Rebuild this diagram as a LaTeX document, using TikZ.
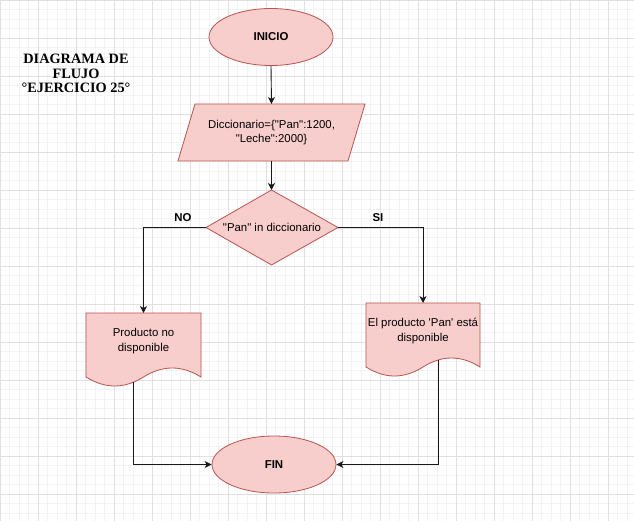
\documentclass[tikz,border=0pt]{standalone}
\usepackage{fontspec}
\setmainfont{Liberation Sans}[Ligatures=TeXOff]
\newfontfamily\titlefont{Liberation Serif}
\usetikzlibrary{arrows.meta,shapes.geometric}
\definecolor{fillred}{HTML}{F8CECC}
\definecolor{strokered}{HTML}{B85450}
\definecolor{gridminor}{HTML}{F3F3F3}
\definecolor{gridmajor}{HTML}{E0E0E0}
\begin{document}
\begin{tikzpicture}[x=1pt,y=-1pt,
  shapestyle/.style={fill=fillred, draw=strokered, line width=0.8pt},
  ell/.style={ellipse, shapestyle, minimum width=124pt, minimum height=57pt, inner sep=0pt,
    font=\fontsize{11.4}{14}\selectfont\bfseries},
  lbl/.style={font=\fontsize{11.4}{14.5}\selectfont, align=center, text=black, inner sep=0pt},
  yn/.style={font=\fontsize{11.4}{14}\selectfont\bfseries, text=black, inner sep=0pt},
  conn/.style={draw=black!90, line width=0.9pt, -{Stealth[length=7pt,width=7pt,inset=2pt]}}
]
\useasboundingbox (0,0) rectangle (634,521);
\fill[white] (0,0) rectangle (634,521);
% grid
\foreach \i in {0,...,67} {
  \draw[gridminor, line width=0.6pt] (\i*9.5,0) -- (\i*9.5,521);
}
\foreach \i in {0,...,55} {
  \draw[gridminor, line width=0.6pt] (0,\i*9.5) -- (634,\i*9.5);
}
\foreach \i in {0,...,16} {
  \draw[gridmajor, line width=0.7pt] (\i*38,0) -- (\i*38,521);
}
\foreach \i in {0,...,13} {
  \draw[gridmajor, line width=0.7pt] (0,\i*38) -- (634,\i*38);
}

% title
\node[font=\titlefont\fontsize{14.3}{14.5}\selectfont\bfseries, align=center, inner sep=0pt] (title) at (76,73.5)
  {DIAGRAMA DE\\FLUJO\\°EJERCICIO 25°};

% start
\node[ell] (inicio) at (271,37) {INICIO};

% parallelogram
\draw[shapestyle] (195,104) -- (365,104) -- (348,161) -- (178,161) -- cycle;
\coordinate (paratop) at (271.5,104);
\coordinate (parabot) at (271.5,161);
\node[lbl] (dicc) at (271.5,132.5) {Diccionario=\{"Pan":1200,\\"Leche":2000\}};

% diamond
\draw[shapestyle] (271.5,190) -- (338,227.5) -- (271.5,265) -- (206,227.5) -- cycle;
\coordinate (dtop) at (271.5,190);
\coordinate (dleft) at (206,227.5);
\coordinate (dright) at (338,227.5);
\node[lbl] (cond) at (272,227.5) {"Pan" in diccionario};

% left document
\draw[shapestyle] (86,313) -- (201,313) -- (201,377)
  .. controls (181.83,365) and (162.67,365) .. (143.5,377)
  .. controls (124.33,389) and (105.17,389) .. (86,377) -- cycle;
\coordinate (ldtop) at (143.5,313);
\coordinate (ldbot) at (133,382.4);
\node[lbl] (nodisp) at (143.5,341) {Producto no\\disponible};

% right document
\draw[shapestyle] (366,303) -- (480,303) -- (480,367)
  .. controls (461,355) and (442,355) .. (423,367)
  .. controls (404,379) and (385,379) .. (366,367) -- cycle;
\coordinate (rdtop) at (423,303);
\coordinate (rdbot) at (438,360);
\node[lbl] (disp) at (423,331) {El producto 'Pan' está\\disponible};

% end
\node[ell] (fin) at (274,464.5) {FIN};

% labels
\node[yn] (no) at (183,218) {NO};
\node[yn] (si) at (378,218) {SI};

% connectors
\draw[conn] (inicio.south) -- (paratop);
\draw[conn] (parabot) -- (dtop);
\draw[conn] (dleft) -| (ldtop);
\draw[conn] (dright) -| (rdtop);
\draw[conn] (ldbot) |- (fin.west);
\draw[conn] (rdbot) |- (fin.east);
\end{tikzpicture}
\end{document}
